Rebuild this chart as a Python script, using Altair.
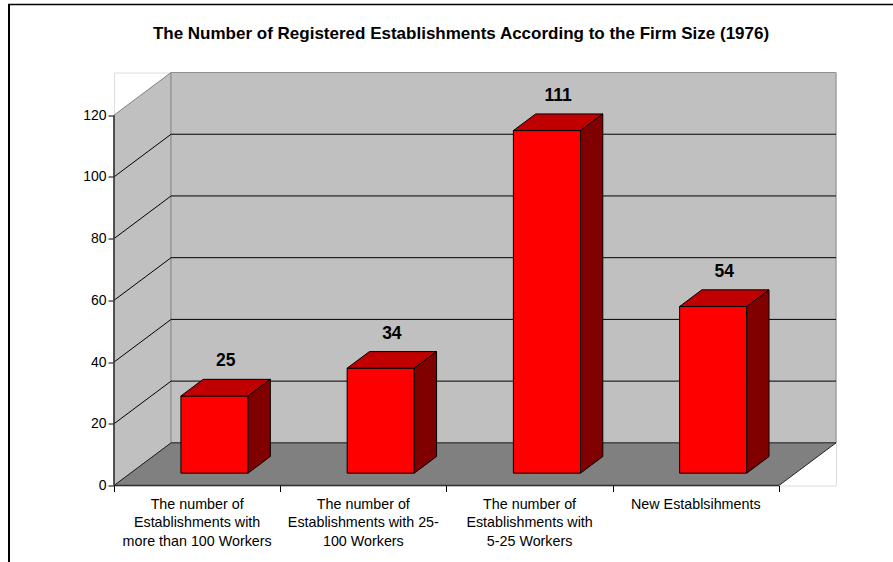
import altair as alt
import pandas as pd

# ---------------- data ----------------
categories = [
    "The number of\nEstablishments with\nmore than 100 Workers",
    "The number of\nEstablishments with 25-\n100 Workers",
    "The number of\nEstablishments with\n5-25 Workers",
    "New Establsihments",
]
values = [25, 34, 111, 54]
y_ticks = [0, 20, 40, 60, 80, 100, 120]
chart_title = "The Number of Registered Establishments According to the Firm Size (1976)"

# ---------------- 3D geometry (style) ----------------
Y_MAX = y_ticks[-1]
N = len(categories)
DX = 0.3434   # wall depth in category units
DY = 13.82    # wall depth in value units
F0, F1 = 0.29, 0.68     # bar depth range (fraction of wall depth)
B0, B1 = 0.303, 0.707   # bar span within a category band
FONT = "Liberation Sans"

W, H = 722, 413
PAD_L, PAD_T = 114, 72.5

xs = alt.Scale(domain=[0, N + DX], nice=False, zero=False)
ys = alt.Scale(domain=[0, Y_MAX + DY], nice=False, zero=False)

Y_AXIS = alt.Axis(
    values=y_ticks, grid=False, domain=False, tickSize=6, tickColor="#000000",
    labelFont=FONT, labelFontSize=14, labelColor="#000000", labelPadding=2,
    title=None,
)
X_AXIS = alt.Axis(
    values=list(range(N + 1)), grid=False, domain=False, labels=False,
    tickSize=6, tickColor="#000000", title=None,
)


def X(f):
    return alt.X(f, scale=xs, axis=X_AXIS)


def Y(f):
    return alt.Y(f, scale=ys, axis=Y_AXIS)


# side wall (left)
side_wall = pd.DataFrame({"x": [0, DX], "lo": [0, DY], "hi": [Y_MAX, Y_MAX + DY]})
side_wall_ch = alt.Chart(side_wall).mark_area(
    orient="vertical", color="#C0C0C0", stroke="#808080", strokeWidth=1
).encode(x=X("x:Q"), y=Y("hi:Q"), y2="lo:Q")

# back wall
back_wall = pd.DataFrame({"x": [DX], "x2": [N + DX], "y": [DY], "y2": [Y_MAX + DY]})
back_wall_ch = alt.Chart(back_wall).mark_rect(
    color="#C0C0C0", stroke="#909090", strokeWidth=1
).encode(x=X("x:Q"), x2="x2:Q", y=Y("y:Q"), y2="y2:Q")

# floor
floor = pd.DataFrame({"y": [0, DY], "x0": [0, DX], "x1": [N, N + DX]})
floor_ch = alt.Chart(floor).mark_area(
    orient="horizontal", color="#808080", stroke="#202020", strokeWidth=1
).encode(y=Y("y:Q"), x=X("x0:Q"), x2="x1:Q")

# gridlines
grid_rows = []
for v in y_ticks[1:-1]:
    grid_rows.append({"x": DX, "x2": N + DX, "y": v + DY, "y2": v + DY})
    grid_rows.append({"x": 0, "x2": DX, "y": v, "y2": v + DY})
grid = pd.DataFrame(grid_rows)
grid_ch = alt.Chart(grid).mark_rule(color="#000000", strokeWidth=1).encode(
    x=X("x:Q"), x2="x2:Q", y=Y("y:Q"), y2="y2:Q"
)

# bars
front_rows, top_rows, side_rows, lab_rows = [], [], [], []
ddx = (F1 - F0) * DX
for i, (c, v) in enumerate(zip(categories, values)):
    xl = i + F0 * DX + B0
    xr = i + F0 * DX + B1
    yb = F0 * DY
    front_rows.append({"k": i, "x": xl, "x2": xr, "y": yb, "y2": yb + v})
    top_rows.append({"k": i, "y": yb + v, "x0": xl, "x1": xr})
    top_rows.append({"k": i, "y": F1 * DY + v, "x0": xl + ddx, "x1": xr + ddx})
    side_rows.append({"k": i, "x": xr, "lo": yb, "hi": yb + v})
    side_rows.append({"k": i, "x": xr + ddx, "lo": F1 * DY, "hi": F1 * DY + v})
    lab_rows.append({"x": (xl + xr) / 2 + ddx / 2, "y": F1 * DY + v, "t": str(v)})

front_ch = alt.Chart(pd.DataFrame(front_rows)).mark_rect(
    color="#FF0000", stroke="#000000", strokeWidth=1
).encode(x=X("x:Q"), x2="x2:Q", y=Y("y:Q"), y2="y2:Q")
top_ch = alt.Chart(pd.DataFrame(top_rows)).mark_area(
    orient="horizontal", color="#C00000", stroke="#000000", strokeWidth=1
).encode(y=Y("y:Q"), x=X("x0:Q"), x2="x1:Q", detail="k:N")
side_ch = alt.Chart(pd.DataFrame(side_rows)).mark_area(
    orient="vertical", color="#800000", stroke="#000000", strokeWidth=1
).encode(x=X("x:Q"), y=Y("hi:Q"), y2="lo:Q", detail="k:N")

value_labels = alt.Chart(pd.DataFrame(lab_rows)).mark_text(
    font=FONT, fontSize=17.5, fontWeight="bold", color="#000000",
    baseline="middle", align="center", dy=-18
).encode(x=X("x:Q"), y=Y("y:Q"), text="t:N")

# front axis lines
y_line = alt.Chart(pd.DataFrame({"x": [0], "y": [0], "y2": [Y_MAX]})).mark_rule(
    color="#303030", strokeWidth=1.5
).encode(x=X("x:Q"), y=Y("y:Q"), y2="y2:Q")
x_line = alt.Chart(pd.DataFrame({"x": [0], "x2": [N], "y": [0]})).mark_rule(
    color="#303030", strokeWidth=1.5
).encode(x=X("x:Q"), x2="x2:Q", y=Y("y:Q"))

cat_df = pd.DataFrame({"x": [i + 0.5 for i in range(N)], "y": [0] * N, "t": categories})
cat_labels = alt.Chart(cat_df).mark_text(
    font=FONT, fontSize=14.3, color="#000000", baseline="top", align="center",
    dy=12, lineBreak="\n", lineHeight=18.5
).encode(x=X("x:Q"), y=Y("y:Q"), text="t:N")

# chart-area frame (decoration)
axes_df = pd.DataFrame({"x": [0]})
frame_left = alt.Chart(axes_df).mark_rule(color="#000000", strokeWidth=2).encode(
    x=alt.value(9 - PAD_L), y=alt.value(4.5 - PAD_T), y2=alt.value(562 - PAD_T)
)
frame_top = alt.Chart(axes_df).mark_rule(color="#000000", strokeWidth=1.5).encode(
    x=alt.value(8 - PAD_L), x2=alt.value(893 - PAD_L), y=alt.value(4.5 - PAD_T)
)

chart = alt.layer(
    frame_left, frame_top,
    side_wall_ch, back_wall_ch, floor_ch, grid_ch,
    y_line, x_line,
    front_ch, top_ch, side_ch, value_labels, cat_labels,
).properties(
    width=W, height=H,
    title=alt.TitleParams(
        chart_title, font=FONT, fontSize=17, fontWeight="bold", color="#000000",
        anchor="middle", frame="group", dx=-14, offset=0, dy=52, baseline="alphabetic",
    ),
    autosize=alt.AutoSizeParams(type="none"),
    padding={"left": PAD_L, "top": PAD_T, "right": 893 - PAD_L - W, "bottom": 562 - PAD_T - H},
).configure_view(stroke=None).configure(background="#FFFFFF")

chart.save("out.html", embed_options={"renderer": "svg", "actions": False})
